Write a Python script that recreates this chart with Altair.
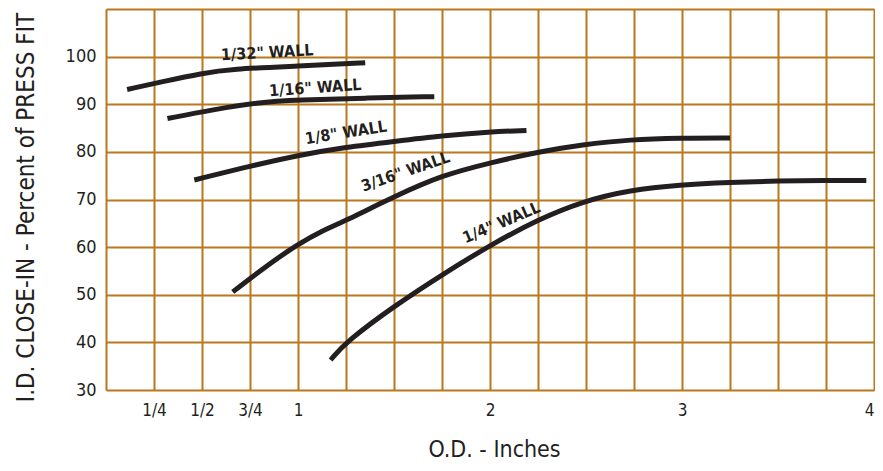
import altair as alt
import pandas as pd

# Curve data (O.D. inches, % close-in)
wall_names = ['1/32" WALL', '1/16" WALL', '1/8" WALL', '3/16" WALL', '1/4" WALL']

od_132 = [0.11, 0.30, 0.50, 0.65, 1.00, 1.35]
pct_132 = [93.1, 94.8, 96.5, 97.4, 98.0, 98.7]

od_116 = [0.32, 0.55, 0.79, 1.00, 1.35, 1.71]
pct_116 = [87.0, 88.8, 90.4, 90.9, 91.3, 91.6]

od_18 = [0.46, 0.75, 1.00, 1.25, 1.50, 1.75, 2.00, 2.19]
pct_18 = [74.1, 77.0, 79.3, 81.0, 82.2, 83.4, 84.2, 84.5]

od_316 = [0.66, 0.85, 1.00, 1.13, 1.25, 1.50, 1.75, 2.00, 2.25, 2.48, 2.73, 2.99, 3.25]
pct_316 = [50.6, 56.5, 60.6, 63.5, 65.6, 70.6, 75.1, 77.7, 80.0, 81.5, 82.6, 82.9, 82.9]

od_14 = [1.17, 1.25, 1.50, 1.75, 2.00, 2.25, 2.48, 2.73, 2.99, 3.25, 3.50, 3.75, 3.96]
pct_14 = [36.3, 40.1, 47.6, 54.2, 60.4, 65.8, 69.6, 72.0, 73.1, 73.6, 73.9, 74.0, 74.0]

# Curve label annotations
label_text = wall_names
label_x = [0.84, 1.09, 1.25, 1.56, 2.06]
label_y = [100.8, 93.4, 84.0, 75.8, 65.1]
label_angle = [357, 356, 351, 341, 337]

x_grid = [i * 0.25 for i in range(17)]
y_grid = list(range(30, 111, 10))

rows = []
for name, xs, ys in zip(wall_names,
                        [od_132, od_116, od_18, od_316, od_14],
                        [pct_132, pct_116, pct_18, pct_316, pct_14]):
    for i, (a, b) in enumerate(zip(xs, ys)):
        rows.append({"wall": name, "od": a, "pct": b, "order": i})
df = pd.DataFrame(rows)

lab = pd.DataFrame({"text": label_text, "od": label_x, "pct": label_y, "angle": label_angle})

GRID = "#b8791f"
INK = "#231f20"
FONT = "DejaVu Sans Condensed"

x_enc = alt.X("od:Q", scale=alt.Scale(domain=[0, 4], nice=False, zero=False),
              axis=alt.Axis(values=x_grid, grid=True, gridColor=GRID, gridWidth=2, gridOpacity=1,
                            domain=False, ticks=False, labelPadding=12, labelFontSize=17,
                            labelFont=FONT, labelColor=INK, labelFlush=True,
                            labelExpr="datum.value==0.25?'1/4':datum.value==0.5?'1/2':datum.value==0.75?'3/4':(datum.value==1||datum.value==2||datum.value==3||datum.value==4)?format(datum.value,'d'):''",
                            title="O.D. - Inches", titleFont=FONT, titleFontSize=23,
                            titleFontWeight="normal", titleColor=INK,
                            titleX=388, titleY=66, titleBaseline="alphabetic", titleAlign="center"))
y_enc = alt.Y("pct:Q", scale=alt.Scale(domain=[30, 110], nice=False, zero=False),
              axis=alt.Axis(values=y_grid, grid=True, gridColor=GRID, gridWidth=2, gridOpacity=1,
                            domain=False, ticks=False, labelPadding=10, labelFontSize=18,
                            labelFont=FONT, labelColor=INK,
                            labelExpr="datum.value==110?'':datum.label",
                            title="I.D. CLOSE-IN - Percent of PRESS FIT", titleFont=FONT,
                            titleFontSize=24, titleFontWeight="normal", titleColor=INK,
                            titleX=-73, titleY=198, titleAngle=270, titleBaseline="alphabetic",
                            titleAlign="center"))

lines = alt.Chart(df).mark_line(color=INK, strokeWidth=5, interpolate="basis",
                                strokeCap="butt").encode(
    x=x_enc, y=y_enc, detail="wall:N", order="order:Q")

texts = alt.Chart(lab).mark_text(font=FONT, fontSize=16, fontWeight="bold", color=INK,
                                 align="center", baseline="middle").encode(
    x="od:Q", y="pct:Q", text="text:N", angle=alt.Angle("angle:Q", scale=None))

chart = alt.layer(lines, texts).properties(
    width=768, height=381,
    autosize=alt.AutoSizeParams(type="none"),
    padding={"left": 98, "top": 1, "right": 1, "bottom": 73},
).configure_view(stroke=GRID, strokeWidth=2.5).configure(background="white")

chart.save("out.html", embed_options={"renderer": "svg", "actions": False})
